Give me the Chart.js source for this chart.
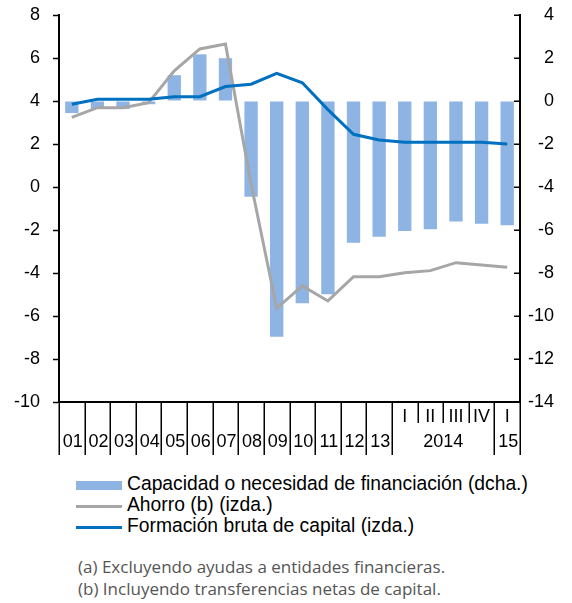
<!DOCTYPE html>
<html>
<head>
<meta charset="utf-8">
<script src="https://cdn.jsdelivr.net/npm/chart.js@4/dist/chart.umd.min.js"></script>
<style>
  body { margin: 0; background: #fff; }
  #wrap { position: relative; width: 572px; height: 603px; }
  #chart { position: absolute; left: 0; top: 0; }
  .leg { position: absolute; left: 76px; font: 19.3px "Liberation Sans", Arial, sans-serif; color: #000; white-space: nowrap; }
  .leg span.sw { position: absolute; left: 0; width: 46px; }
  .leg span.tx { position: absolute; left: 51px; top: -12px; }
  .note { position: absolute; left: 78px; font: 17px "Open Sans", sans-serif; color: #555; white-space: nowrap; }
</style>
</head>
<body>
<div id="wrap">
  <canvas id="chart" width="572" height="460"></canvas>
  <div id="legend"></div>
  <div class="note" style="top:555px">(a) Excluyendo ayudas a entidades financieras.</div>
  <div class="note" style="top:577px">(b) Incluyendo transferencias netas de capital.</div>
</div>
<script>
// categories (years, then 2014 quarters and 2015 Q1)
const categories = ['2001','2002','2003','2004','2005','2006','2007','2008','2009','2010','2011','2012','2013','2014-I','2014-II','2014-III','2014-IV','2015-I'];
const yearLabels = ['01','02','03','04','05','06','07','08','09','10','11','12','13','','','','','15'];
const quarterLabels = ['','','','','','','','','','','','','','I','II','III','IV','I'];
const groupLabel = '2014';
const groupFrom = 13, groupTo = 16;

// series (% of GDP)
const capacidad = [-0.56, -0.36, -0.37, -0.15, 1.2, 2.17, 1.99, -4.45, -10.96, -9.41, -8.99, -6.59, -6.31, -6.05, -5.97, -5.61, -5.71, -5.78];
const ahorro = [3.24, 3.69, 3.69, 3.92, 5.4, 6.42, 6.65, 0.14, -5.64, -4.6, -5.3, -4.17, -4.17, -3.99, -3.89, -3.52, -3.63, -3.73];
const formacion = [3.85, 4.08, 4.08, 4.08, 4.2, 4.2, 4.67, 4.78, 5.29, 4.85, 3.6, 2.45, 2.19, 2.08, 2.08, 2.08, 2.08, 2.0];

const seriesNames = ['Capacidad o necesidad de financiación (dcha.)', 'Ahorro (b) (izda.)', 'Formación bruta de capital (izda.)'];
const colors = ['#8db4e2', '#a6a6a6', '#0070c0'];

const font = { family: '"Liberation Sans", Arial, sans-serif', size: 18 };

// custom x-axis ticks and labels, inward ticks on the right axis
const axisDecor = {
  id: 'axisDecor',
  afterDraw(chart) {
    const { ctx, chartArea, scales } = chart;
    const x = scales.x, yr = scales.y1;
    const n = categories.length;
    const bottom = chartArea.bottom;
    ctx.save();
    ctx.strokeStyle = '#000';
    ctx.lineWidth = 1.5;
    for (let k = 0; k <= n; k++) {
      const px = Math.round(x.getPixelForValue(k - 0.5)) + 0.25;
      const shortTick = k > 0 && k < n && yearLabels[k - 1] === '' && yearLabels[k] === '';
      ctx.beginPath();
      ctx.moveTo(px, bottom);
      ctx.lineTo(px, bottom + (shortTick ? 21 : 53));
      ctx.stroke();
    }
    yr.ticks.forEach(t => {
      const py = Math.round(yr.getPixelForValue(t.value)) + 0.25;
      ctx.beginPath();
      ctx.moveTo(chartArea.right - 6, py);
      ctx.lineTo(chartArea.right, py);
      ctx.stroke();
    });
    ctx.fillStyle = '#000';
    ctx.font = font.size + 'px ' + font.family;
    ctx.textAlign = 'center';
    ctx.textBaseline = 'middle';
    for (let i = 0; i < n; i++) {
      const cx = x.getPixelForValue(i);
      if (quarterLabels[i]) ctx.fillText(quarterLabels[i], cx, bottom + 15);
      if (yearLabels[i]) ctx.fillText(yearLabels[i], cx + 1, bottom + 40);
    }
    const gx = (x.getPixelForValue(groupFrom) + x.getPixelForValue(groupTo)) / 2;
    ctx.fillText(groupLabel, gx, bottom + 40);
    ctx.restore();
  }
};

new Chart(document.getElementById('chart').getContext('2d'), {
  type: 'bar',
  data: {
    labels: categories,
    datasets: [
      {
        type: 'line',
        label: seriesNames[2],
        data: formacion,
        yAxisID: 'y',
        borderColor: colors[2],
        borderWidth: 3,
        pointRadius: 0,
        tension: 0,
        order: 1
      },
      {
        type: 'line',
        label: seriesNames[1],
        data: ahorro,
        yAxisID: 'y',
        borderColor: colors[1],
        borderWidth: 3,
        pointRadius: 0,
        tension: 0,
        order: 2
      },
      {
        label: seriesNames[0],
        data: capacidad,
        yAxisID: 'y1',
        backgroundColor: colors[0],
        barPercentage: 0.52,
        categoryPercentage: 1,
        order: 3
      }
    ]
  },
  options: {
    responsive: false,
    animation: false,
    layout: { padding: { top: 15, left: 0, right: 18, bottom: 0 } },
    plugins: {
      legend: { display: false },
      tooltip: { enabled: false }
    },
    scales: {
      x: {
        grid: { display: false },
        border: { display: true, color: '#000', width: 2 },
        ticks: { display: false },
        afterFit: function(scale) { scale.height = 58; }
      },
      y: {
        position: 'left',
        min: -10,
        max: 8,
        ticks: { stepSize: 2, color: '#000', font: font, padding: 13 },
        grid: { drawOnChartArea: false, drawTicks: true, tickLength: 6, tickColor: '#000', tickWidth: 1.5 },
        border: { display: true, color: '#000', width: 2 },
        afterFit: function(scale) {
          scale.width = 59;
          scale.paddingTop = 0;
          scale.paddingBottom = 0;
        }
      },
      y1: {
        position: 'right',
        min: -14,
        max: 4,
        ticks: { stepSize: 2, color: '#000', font: font, padding: 8, crossAlign: 'far' },
        grid: { drawOnChartArea: false, drawTicks: false },
        border: { display: true, color: '#000', width: 2 },
        afterFit: function(scale) {
          scale.width = 34;
          scale.paddingTop = 0;
          scale.paddingBottom = 0;
        }
      }
    }
  },
  plugins: [axisDecor]
});

// legend below the chart
const legend = document.getElementById('legend');
const legendRows = [
  { name: seriesNames[0], color: colors[0], h: 9, top: 485 },
  { name: seriesNames[1], color: colors[1], h: 3, top: 506 },
  { name: seriesNames[2], color: colors[2], h: 3, top: 527 }
];
legendRows.forEach(r => {
  const row = document.createElement('div');
  row.className = 'leg';
  row.style.top = r.top + 'px';
  row.innerHTML = '<span class="sw" style="top:' + (-r.h / 2) + 'px;height:' + r.h + 'px;background:' + r.color + '"></span>' +
    '<span class="tx">' + r.name + '</span>';
  legend.appendChild(row);
});
</script>
</body>
</html>
